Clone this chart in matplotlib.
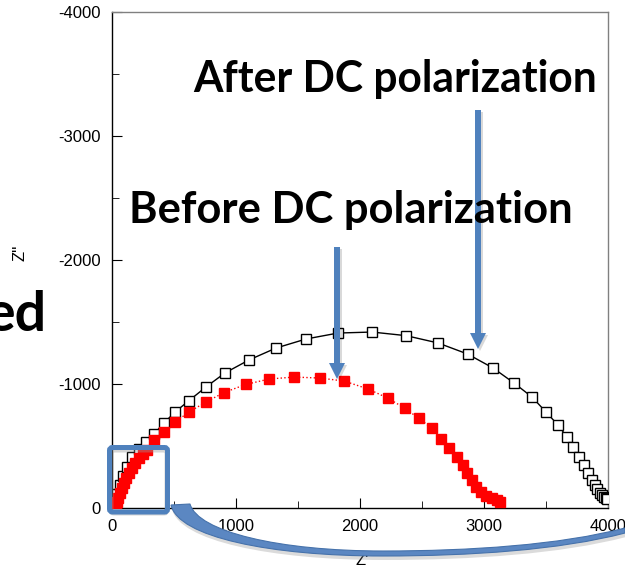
import matplotlib
matplotlib.use("Agg")
import matplotlib.pyplot as plt
from matplotlib.patches import FancyArrow, FancyBboxPatch, PathPatch
from matplotlib.path import Path
from matplotlib.transforms import Affine2D
from matplotlib.ticker import MultipleLocator

plt.rcParams["font.family"] = ["Liberation Sans", "DejaVu Sans"]
plt.rcParams["axes.unicode_minus"] = False

# Nyquist data (Z' , -Z'')
after_x = [16, 24, 40, 65, 89, 121, 161, 218, 274, 339,
           419, 508, 621, 758, 911, 1105, 1323, 1565, 1823, 2097,
           2371, 2629, 2867, 3073, 3242, 3387, 3500, 3597, 3669, 3718,
           3766, 3806, 3839, 3871, 3895, 3915, 3935, 3952, 3968, 3980, 3992]
after_y = [-8, -48, -113, -185, -258, -331, -411, -476, -532, -597,
           -685, -774, -866, -976, -1089, -1194, -1290, -1363, -1411, -1419,
           -1390, -1331, -1242, -1129, -1008, -895, -774, -669, -573, -492,
           -411, -347, -282, -226, -185, -150, -125, -105, -92, -84, -76]

before_x = [32, 40, 48, 65, 81, 97, 113, 137, 161, 185,
            218, 250, 282, 339, 419, 508, 621, 758, 903, 1077,
            1266, 1468, 1677, 1871, 2065, 2222, 2359, 2476, 2577, 2653,
            2718, 2782, 2831, 2863, 2903, 2935, 2976, 3016, 3065, 3105, 3125]
before_y = [-16, -48, -81, -121, -161, -202, -242, -282, -323, -363,
            -403, -435, -468, -548, -613, -693, -774, -855, -931, -996,
            -1040, -1056, -1048, -1024, -960, -887, -806, -722, -645, -556,
            -484, -411, -347, -282, -226, -169, -129, -97, -81, -65, -50]

x_ticks = [0, 1000, 2000, 3000, 4000]
y_ticks = [0, -1000, -2000, -3000, -4000]

W, H = 625, 570
fig = plt.figure(figsize=(W / 100, H / 100), dpi=100)
ax = fig.add_axes([112 / W, 1 - 508 / H, 496 / W, 496 / H])

# pixel coords measured from the top-left corner of the image
px = Affine2D().scale(1 / 100, -1 / 100).translate(0, H / 100) + fig.dpi_scale_trans

ax.plot(after_x, after_y, "-", color="black", lw=1, marker="s", ms=7.5,
        mfc="white", mec="black", mew=1, zorder=3)
ax.plot(before_x, before_y, ":", color="red", lw=1, marker="s", ms=7.5,
        mfc="red", mec="red", zorder=4)

ax.set_xlim(0, 4000)
ax.set_ylim(0, -4000)
ax.set_xticks(x_ticks)
ax.set_yticks(y_ticks)
ax.xaxis.set_minor_locator(MultipleLocator(500))
ax.yaxis.set_minor_locator(MultipleLocator(500))
ax.tick_params(which="both", direction="in", labelsize=12, top=False, right=False)
ax.tick_params(which="major", length=7, pad=8)
ax.tick_params(which="minor", length=5)
for side in ["top", "right"]:
    ax.spines[side].set_color("#808080")
for sp in ax.spines.values():
    sp.set_linewidth(1)

ax.set_xlabel("Z'", fontsize=12)
ax.set_ylabel("Z''", fontsize=12)
ax.xaxis.set_label_coords(0.504, -0.09)
ax.yaxis.set_label_coords(-0.17, 0.514)

blue = "#4F81BD"

# arrows
for (x0, y0, y1) in [(478, 110, 349), (337, 247, 379)]:
    fig.patches.append(FancyArrow(x0 + 2, y0 + 2, 0, y1 - y0, width=6, head_width=16,
                                  head_length=16, length_includes_head=True,
                                  color="black", alpha=0.15, lw=0, transform=px, zorder=5))
    fig.patches.append(FancyArrow(x0, y0, 0, y1 - y0, width=6, head_width=16,
                                  head_length=16, length_includes_head=True,
                                  color=blue, lw=0, transform=px, zorder=6))

# zoom box
fig.patches.append(FancyBboxPatch((111, 450), 56, 63, boxstyle="round,pad=0,rounding_size=3",
                                  fill=False, ec="#999999", alpha=0.4, lw=3.6, transform=px, zorder=5))
fig.patches.append(FancyBboxPatch((109.5, 447.5), 58, 64.5, boxstyle="round,pad=0,rounding_size=3",
                                  fill=False, ec=blue, lw=3.6, transform=px, zorder=6))

# curved callout ribbon (bezier outline, pixel coords)
rib_verts = [(171, 505), (190, 504),
             (198, 532), (280, 551), (383, 551),
             (470, 551), (560, 545), (625, 528),
             (625, 533),
             (560, 550), (470, 556), (383, 556),
             (270, 556), (178, 537), (171, 505),
             (171, 505)]
rib_codes = [Path.MOVETO, Path.LINETO,
             Path.CURVE4, Path.CURVE4, Path.CURVE4,
             Path.CURVE4, Path.CURVE4, Path.CURVE4,
             Path.LINETO,
             Path.CURVE4, Path.CURVE4, Path.CURVE4,
             Path.CURVE4, Path.CURVE4, Path.CURVE4,
             Path.CLOSEPOLY]
rib_path = Path(rib_verts, rib_codes)
fig.patches.append(PathPatch(rib_path, fc="#888888", ec="none", alpha=0.3,
                             transform=Affine2D().translate(1, 4) + px, zorder=5))
fig.patches.append(PathPatch(rib_path, fc="#5B87C2", ec="#4672AB", lw=0.8,
                             transform=px, zorder=6))

# slide texts
def fit_text(x, y, s, width_px, **kw):
    t = fig.text(x / W, 1 - y / H, s, transform=fig.transFigure, **kw)
    fig.canvas.draw()
    w = t.get_window_extent().width
    t.set_fontsize(t.get_fontsize() * width_px / w)
    return t

title_kw = dict(family=["Lato", "DejaVu Sans"], weight="bold", fontsize=28,
                ha="left", va="baseline", zorder=7)
fit_text(193, 92, "After DC polarization", 404, **title_kw)
fit_text(129, 223, "Before DC polarization", 443, **title_kw)
# leftover slide word, partly cut by the left image edge as in the source
fig.text(46 / W, 1 - 331 / H, "ed", family=["Lato", "DejaVu Sans"], weight="bold",
         fontsize=40, ha="right", va="baseline")

fig.savefig("out.png", dpi=100)
